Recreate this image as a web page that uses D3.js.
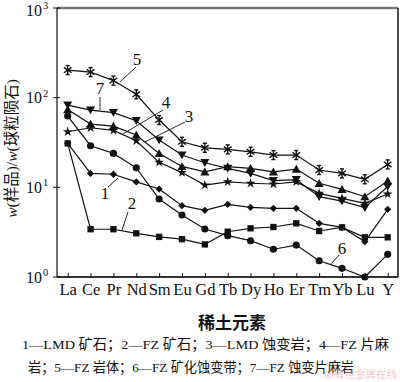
<!DOCTYPE html>
<html>
<head>
<meta charset="utf-8">
<script src="https://cdn.jsdelivr.net/npm/d3@7/dist/d3.min.js"></script>
<style>
  html, body { margin: 0; padding: 0; background: #fff; }
  svg { display: block; }
</style>
</head>
<body>
<svg id="chart" width="400" height="382"></svg>
<script>
// ---- data ----
const elements = ["La","Ce","Pr","Nd","Sm","Eu","Gd","Tb","Dy","Ho","Er","Tm","Yb","Lu","Y"];
const s1 = [30.9, 14.3, 14.0, 11.5, 9.57, 6.24, 5.54, 6.46, 5.98, 5.83, 5.83, 3.97, 3.58, 2.48, 5.69];
const s2 = [30.9, 3.41, 3.41, 3.07, 2.80, 2.64, 2.31, 3.20, 3.49, 3.61, 3.97, 3.26, 3.58, 2.77, 2.77];
const s3 = [73.6, 50.8, 48.2, 38.3, 23.9, 17.1, 14.9, 17.0, 16.3, 14.9, 16.0, 11.1, 9.5, 7.86, 11.8];
const s4 = [41.7, 46.2, 43.2, 33.1, 19.0, 14.6, 10.6, 11.5, 11.1, 10.9, 11.5, 8.57, 7.54, 6.63, 8.42];
const s5 = [203, 193, 155, 109, 56.3, 32.2, 27.6, 26.5, 24.9, 22.9, 22.9, 15.6, 14.3, 12.3, 18.0];
const s6 = [62.4, 29.1, 23.9, 16.5, 7.41, 4.91, 3.43, 2.89, 2.54, 2.04, 2.27, 1.52, 1.25, 1.0, 1.79];
const s7 = [82.7, 72.7, 68.2, 55.3, 33.7, 22.9, 18.8, 16.3, 14.3, 11.9, 12.2, 7.86, 7.03, 5.93, 10.2];
const seriesNames = ["1","2","3","4","5","6","7"];
const seriesValues = [s1, s2, s3, s4, s5, s6, s7];
const seriesMarkers = ["diamond","square","triangle","star","asterisk","circle","triangleDown"];
const yTickExps = [0, 1, 2, 3];
const xTitle = "稀土元素";
const legendLine1 = "1—LMD 矿石；2—FZ 矿石；3—LMD 蚀变岩；4—FZ 片麻";
const legendLine2 = "岩；5—FZ 岩体；6—FZ 矿化蚀变带；7—FZ 蚀变片麻岩";

// ---- layout ----
const svg = d3.select("#chart");
const L = 57, R = 398, T = 8, B = 277;
const serif = "'Liberation Serif','Times New Roman','Noto Sans CJK SC',serif";
const x = d3.scalePoint().domain(elements).range([67.7, 387.7]);
const y = d3.scaleLog().domain([1, 1000]).range([B, T]);

// frame
svg.append("line").attr("x1", L).attr("x2", R).attr("y1", T).attr("y2", T)
  .attr("stroke", "#777").attr("stroke-width", 2.5);
svg.append("line").attr("x1", L).attr("x2", R).attr("y1", B).attr("y2", B)
  .attr("stroke", "#333").attr("stroke-width", 1.8);
svg.append("line").attr("x1", L).attr("x2", L).attr("y1", T).attr("y2", B)
  .attr("stroke", "#111").attr("stroke-width", 1.2);
svg.append("line").attr("x1", R).attr("x2", R).attr("y1", T).attr("y2", B)
  .attr("stroke", "#111").attr("stroke-width", 1.5);

// x axis ticks (inward) + labels
const xAxis = d3.axisBottom(x).tickSize(-4).tickPadding(10);
const gx = svg.append("g").attr("transform", `translate(0,${B})`).call(xAxis);
gx.select(".domain").remove();
gx.selectAll(".tick line").attr("stroke", "#111").attr("stroke-width", 1);
gx.selectAll(".tick text").attr("font-family", serif).attr("font-size", 16.5)
  .attr("fill", "#111").attr("dy", "0.72em").attr("y", 6);

// y axis ticks
const gy = svg.append("g");
yTickExps.forEach(e => {
  const v = Math.pow(10, e);
  const yy = y(v);
  const shift = e === 3 ? 2 : 0;
  gy.append("line").attr("x1", L - 4).attr("x2", L + 3).attr("y1", yy).attr("y2", yy)
    .attr("stroke", "#111").attr("stroke-width", 1);
  gy.append("text").attr("x", 42).attr("y", yy + 5.5 + shift)
    .attr("text-anchor", "end").attr("font-family", serif).attr("font-size", 16).attr("fill", "#111")
    .text("10");
  gy.append("text").attr("x", 43).attr("y", yy - 1 + shift)
    .attr("font-family", serif).attr("font-size", 10.5).attr("fill", "#111").text(String(e));
});

// y title
const yt = svg.append("text")
  .attr("transform", `translate(17,${(T + B) / 2 + 6}) rotate(-90)`)
  .attr("text-anchor", "middle").attr("font-family", serif).attr("font-size", 15.5).attr("fill", "#111");
yt.append("tspan").attr("font-style", "italic").text("w");
yt.append("tspan").text("(样品)/");
yt.append("tspan").attr("font-style", "italic").text("w");
yt.append("tspan").text("(球粒陨石)");

// lines
const line = d3.line().x((d, i) => x(elements[i])).y(d => y(d));
seriesValues.forEach(vals => {
  svg.append("path").datum(vals).attr("d", line)
    .attr("fill", "none").attr("stroke", "#111").attr("stroke-width", 1.2);
});

// markers
const symGen = {
  diamond: d3.symbol().type(d3.symbolDiamond2).size(34),
  square: d3.symbol().type(d3.symbolSquare).size(40),
  triangle: d3.symbol().type(d3.symbolTriangle).size(36),
  triangleDown: d3.symbol().type(d3.symbolTriangle).size(36),
  star: d3.symbol().type(d3.symbolStar).size(30),
  circle: d3.symbol().type(d3.symbolCircle).size(40)
};
seriesValues.forEach((vals, si) => {
  const m = seriesMarkers[si];
  const g = svg.append("g");
  vals.forEach((v, i) => {
    const px = x(elements[i]), py = y(v);
    if (m === "asterisk") {
      const r = 4.5;
      const a = g.append("g").attr("transform", `translate(${px},${py})`)
        .attr("stroke", "#111").attr("stroke-width", 1.4);
      a.append("line").attr("x1", 0).attr("y1", -r).attr("x2", 0).attr("y2", r);
      a.append("line").attr("x1", -r * 0.85).attr("y1", -r * 0.6).attr("x2", r * 0.85).attr("y2", r * 0.6);
      a.append("line").attr("x1", -r * 0.85).attr("y1", r * 0.6).attr("x2", r * 0.85).attr("y2", -r * 0.6);
      a.append("line").attr("x1", -r * 0.45).attr("y1", -r).attr("x2", r * 0.45).attr("y2", -r);
      a.append("line").attr("x1", -r * 0.45).attr("y1", r).attr("x2", r * 0.45).attr("y2", r);
    } else {
      let tr = `translate(${px},${py})`;
      if (m === "triangleDown") tr += " rotate(180)";
      if (m === "triangle" || m === "triangleDown") tr += " translate(0,1)";
      g.append("path").attr("d", symGen[m]()).attr("transform", tr).attr("fill", "#111");
    }
  });
});

// series number annotations (label position, leader start, leader end in px)
const notes = [
  {t: "5", tx: 137, ty: 65, l: [136, 67, 120, 82]},
  {t: "7", tx: 100, ty: 94, l: [100, 97, 100, 110]},
  {t: "4", tx: 166, ty: 108, l: [163, 110, 123, 134]},
  {t: "3", tx: 189, ty: 122, l: [185, 122, 145, 142]},
  {t: "1", tx: 105, ty: 199, l: [108, 187, 118, 178]},
  {t: "2", tx: 132, ty: 209, l: [128, 212, 122, 230]},
  {t: "6", tx: 342, ty: 254, l: [339, 255, 330, 265]}
];
notes.forEach(n => {
  svg.append("line").attr("x1", n.l[0]).attr("y1", n.l[1]).attr("x2", n.l[2]).attr("y2", n.l[3])
    .attr("stroke", "#111").attr("stroke-width", 0.9);
  svg.append("text").attr("x", n.tx).attr("y", n.ty).attr("text-anchor", "middle")
    .attr("font-family", serif).attr("font-size", 17).attr("fill", "#111").text(n.t);
});

// x title
svg.append("text").attr("x", 232).attr("y", 329).attr("text-anchor", "middle")
  .attr("font-family", "'Noto Sans CJK SC',sans-serif").attr("font-weight", "bold")
  .attr("font-size", 17).attr("fill", "#111").text(xTitle);

// legend text
svg.append("text").attr("x", 22).attr("y", 349)
  .attr("font-family", serif).attr("font-size", 13.5).attr("fill", "#111")
  .attr("textLength", 367).attr("lengthAdjust", "spacingAndGlyphs").text(legendLine1);
svg.append("text").attr("x", 28).attr("y", 372)
  .attr("font-family", serif).attr("font-size", 13.5).attr("fill", "#111")
  .attr("textLength", 326).attr("lengthAdjust", "spacingAndGlyphs").text(legendLine2);

// faint watermark
svg.append("text").attr("x", 397).attr("y", 378).attr("text-anchor", "end")
  .attr("font-family", "'Noto Sans CJK SC',sans-serif").attr("font-size", 10.5)
  .attr("fill", "#e8a0a8").attr("opacity", 0.55).text("@有色金属在线");
</script>
</body>
</html>
